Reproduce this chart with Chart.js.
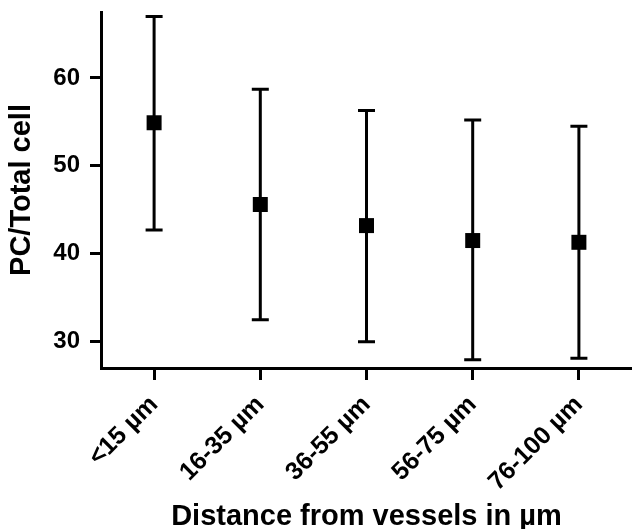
<!DOCTYPE html>
<html>
<head>
<meta charset="utf-8">
<script src="https://cdn.jsdelivr.net/npm/chart.js@4/dist/chart.umd.min.js"></script>
<style>
  html, body { margin: 0; padding: 0; background: #fff; }
  #wrap { width: 632px; height: 529px; position: relative; }
</style>
</head>
<body>
<div id="wrap"><canvas id="chart"></canvas></div>
<script>
// data
const categories = ["<15 µm", "16-35 µm", "36-55 µm", "56-75 µm", "76-100 µm"];
const means = [54.9, 45.6, 43.2, 41.5, 41.3];
const upper = [67.0, 58.7, 56.3, 55.2, 54.5];
const lower = [42.7, 32.5, 30.0, 27.95, 28.1];
const yTicks = [30, 40, 50, 60];

const FONT = "'Liberation Sans', Arial, sans-serif";

// whiskers drawn under the square markers
const errorBars = {
  id: "errorBars",
  beforeDatasetsDraw(chart) {
    const ctx = chart.ctx;
    const x = chart.scales.x, y = chart.scales.y;
    ctx.save();
    ctx.strokeStyle = "#000";
    ctx.lineWidth = 3;
    categories.forEach((c, i) => {
      const px = x.getPixelForValue(i);
      const top = y.getPixelForValue(upper[i]);
      const bot = y.getPixelForValue(lower[i]);
      ctx.beginPath();
      ctx.moveTo(px, top);
      ctx.lineTo(px, bot);
      ctx.moveTo(px - 8.5, top);
      ctx.lineTo(px + 8.5, top);
      ctx.moveTo(px - 8.5, bot);
      ctx.lineTo(px + 8.5, bot);
      ctx.stroke();
    });
    ctx.restore();
  }
};

new Chart(document.getElementById("chart"), {
  type: "line",
  plugins: [errorBars],
  data: {
    labels: categories,
    datasets: [{
      data: means,
      showLine: false,
      clip: false,
      pointStyle: "rect",
      pointRadius: 10.6,
      pointBackgroundColor: "#000",
      pointBorderColor: "#000",
      pointBorderWidth: 0,
    }]
  },
  options: {
    responsive: true,
    maintainAspectRatio: false,
    animation: false,
    layout: { autoPadding: false, padding: { top: 12, right: 0, bottom: 0, left: 0 } },
    plugins: {
      legend: { display: false },
      tooltip: { enabled: false },
    },
    scales: {
      x: {
        type: "category",
        offset: true,
        afterFit: s => { s.height = 161; s.paddingLeft = 0; s.paddingRight = 0; },
        border: { display: true, color: "#000", width: 3 },
        grid: { drawOnChartArea: false, color: "#000", lineWidth: 3, tickLength: 12 },
        ticks: {
          color: "#000",
          minRotation: 45,
          maxRotation: 45,
          padding: 10,
          font: { family: FONT, size: 25, weight: "bold" },
        },
        title: {
          display: true,
          text: "Distance from vessels in µm",
          color: "#000",
          padding: { top: 0, bottom: 0 },
          font: { family: FONT, size: 29, weight: "bold", lineHeight: 0.8 },
        },
      },
      y: {
        min: 27,
        max: 67.5,
        afterFit: s => { s.width = 101; s.paddingTop = 0; s.paddingBottom = 0; },
        afterBuildTicks: s => { s.ticks = yTicks.map(v => ({ value: v })); },
        border: { display: true, color: "#000", width: 3 },
        grid: { drawOnChartArea: false, color: "#000", lineWidth: 3, tickLength: 11 },
        ticks: {
          color: "#000",
          padding: 10,
          font: { family: FONT, size: 24, weight: "bold" },
        },
        title: {
          display: true,
          text: "PC/Total cell",
          color: "#000",
          padding: { top: 5, bottom: 0 },
          font: { family: FONT, size: 29, weight: "bold" },
        },
      },
    },
  },
});
</script>
</body>
</html>
